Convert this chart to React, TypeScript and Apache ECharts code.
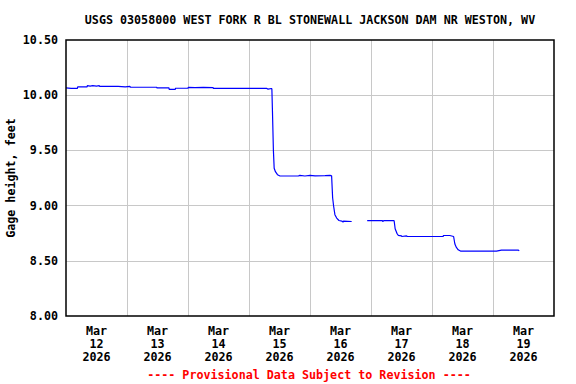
import React, { useEffect, useRef } from "react";
import * as echarts from "echarts";

const titleText = "USGS 03058000 WEST FORK R BL STONEWALL JACKSON DAM NR WESTON, WV";
const footerText = "---- Provisional Data Subject to Revision ----";
const yAxisName = "Gage height, feet";
const monthLabel = "Mar";
const yearLabel = "2026";
const dayLabels = ["12", "13", "14", "15", "16", "17", "18", "19"];

// hours since Mar 12 2026 00:00
const hours = [
  0, 2.0, 4.5, 4.6, 8.3, 8.4, 9.5, 10.5, 12.0, 13.1, 13.2, 20.5, 20.6, 23.3, 23.4, 25.2, 25.3,
  35.7, 35.8, 40.5, 40.6, 43.0, 43.1, 48.0, 48.1, 50.8, 54.0, 57.9, 58.0, 79.0, 79.5, 80.8,
  81.0, 81.2, 81.6, 81.9, 82.4, 83.2, 84.2, 91.4, 92.0, 94.0, 96.0, 98.0, 101.9, 103.9, 104.5,
  104.9, 105.3, 105.8, 106.5, 107.4, 108.5, 109.0, 109.2, 112.4, 112.5,
  118.5, 124.5, 124.6, 125.0, 129.1, 129.5, 130.2, 130.7, 132.0, 132.1, 134.0, 134.3, 148.4,
  148.5, 151.0, 152.5, 153.0, 153.6, 154.3, 155.2, 169.4, 169.5, 171.3, 178.0, 178.3,
];

// gage height, feet (null = missing data)
const gageFeet: (number | null)[] = [
  10.066, 10.062, 10.062, 10.075, 10.075, 10.086, 10.083, 10.086, 10.083, 10.086, 10.08, 10.08,
  10.075, 10.075, 10.08, 10.08, 10.072, 10.072, 10.066, 10.066, 10.052, 10.052, 10.063, 10.063,
  10.07, 10.068, 10.07, 10.068, 10.061, 10.061, 10.055, 10.061, 10.056, 9.881, 9.5, 9.339,
  9.307, 9.28, 9.268, 9.268, 9.274, 9.268, 9.274, 9.27, 9.272, 9.274, 9.27, 9.071, 8.994,
  8.918, 8.887, 8.865, 8.86, 8.85, 8.86, 8.856, null,
  8.863, 8.863, 8.856, 8.863, 8.863, 8.79, 8.749, 8.731, 8.726, 8.72, 8.726, 8.72, 8.72,
  8.729, 8.729, 8.72, 8.652, 8.621, 8.6, 8.588, 8.588, 8.584, 8.597, 8.597, 8.59,
];

const FONT = "'DejaVu Sans Mono', 'Liberation Mono', monospace";
const FS = 11.7;

export default function App() {
  const ref = useRef<HTMLDivElement>(null);
  useEffect(() => {
    if (!ref.current) return;
    const chart = echarts.init(ref.current, undefined, { renderer: "svg" });
    const data = hours.map((h, i) => [h, gageFeet[i]]);
    chart.setOption({
      animation: false,
      backgroundColor: "#ffffff",
      grid: {
        left: 66,
        top: 40,
        right: 22,
        bottom: 68,
        show: true,
        containLabel: false,
        outerBoundsMode: "none",
        borderColor: "#000000",
        borderWidth: 1.5,
        z: 10,
      },
      graphic: [
        {
          type: "text",
          x: 310,
          y: 20,
          z: 100,
          style: {
            text: titleText,
            fill: "#000000",
            font: `bold ${FS}px ${FONT}`,
            textAlign: "center",
            textVerticalAlign: "middle",
          },
        },
        {
          type: "text",
          x: 309,
          y: 375,
          z: 100,
          style: {
            text: footerText,
            fill: "#ff0000",
            font: `bold ${FS}px ${FONT}`,
            textAlign: "center",
            textVerticalAlign: "middle",
          },
        },
      ],
      xAxis: [
        {
          type: "value",
          min: 0,
          max: 192,
          interval: 24,
          axisLine: { show: false },
          axisTick: { show: false },
          axisLabel: { show: false },
          splitLine: {
            show: true,
            showMinLine: false,
            showMaxLine: false,
            lineStyle: { color: "#c8c8c8", width: 1 },
          },
        },
        {
          type: "value",
          min: 0,
          max: 192,
          interval: 12,
          position: "bottom",
          axisLine: { show: false },
          axisTick: { show: false },
          splitLine: { show: false },
          axisLabel: {
            show: true,
            margin: 8,
            color: "#000000",
            fontFamily: FONT,
            fontWeight: "bold",
            fontSize: FS,
            lineHeight: 13,
            formatter: (v: number) => {
              if (v % 24 !== 12) return "";
              const idx = Math.round((v - 12) / 24);
              return `${monthLabel}\n${dayLabels[idx]}\n${yearLabel}`;
            },
          },
        },
      ],
      yAxis: {
        type: "value",
        min: 8,
        max: 10.5,
        interval: 0.5,
        name: yAxisName,
        nameLocation: "middle",
        nameRotate: 90,
        nameGap: 49,
        nameMoveOverlap: false,
        nameTextStyle: {
          color: "#000000",
          fontFamily: FONT,
          fontWeight: "bold",
          fontSize: FS,
        },
        axisLine: { show: false },
        axisTick: { show: false },
        axisLabel: {
          margin: 8,
          color: "#000000",
          fontFamily: FONT,
          fontWeight: "bold",
          fontSize: FS,
          formatter: (v: number) => v.toFixed(2),
        },
        splitLine: {
          show: true,
          showMinLine: false,
          showMaxLine: false,
          lineStyle: { color: "#c8c8c8", width: 1 },
        },
      },
      series: [
        {
          type: "line",
          xAxisIndex: 0,
          data,
          showSymbol: false,
          symbol: "none",
          connectNulls: false,
          lineStyle: { color: "#0000ff", width: 1.2 },
          z: 5,
        },
      ],
    });
    return () => chart.dispose();
  }, []);
  return (
    <div
      ref={ref}
      style={{ position: "fixed", left: 0, top: 0, width: 576, height: 384, background: "#fff" }}
    />
  );
}
